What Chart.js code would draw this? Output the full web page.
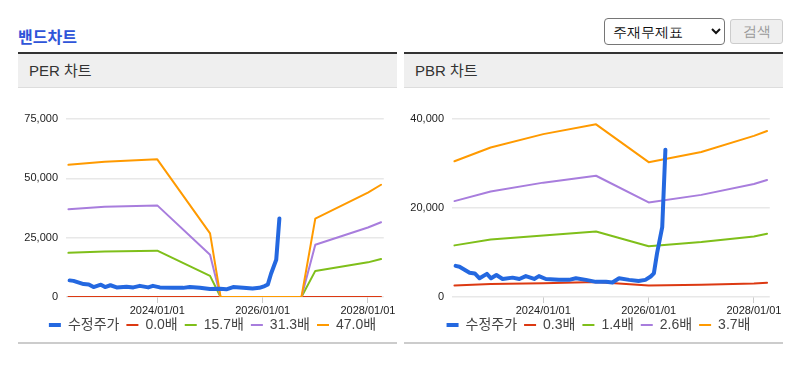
<!DOCTYPE html>
<html lang="ko">
<head>
<meta charset="utf-8">
<title>밴드차트</title>
<script src="https://cdn.jsdelivr.net/npm/chart.js@4.4.1/dist/chart.umd.min.js"></script>
<style>
  body { margin: 0; background: #fff; font-family: "Noto Sans CJK KR", "Noto Sans", sans-serif; }
  #title { position: absolute; left: 18px; top: 24px; font-size: 16px; font-weight: bold; color: #2f55d9; }
  #sel { position: absolute; left: 604px; top: 18px; width: 121px; height: 27px; font-size: 14px;
         border: 1px solid #767676; border-radius: 4px; background: #fff; color: #111; padding: 0 4px; }
  #btn { position: absolute; left: 730px; top: 19px; width: 53px; height: 25px; font-size: 14px;
         border: 1px solid #ccc; border-radius: 3px; background: #efefef; color: #999; padding: 0; }
  .panel { position: absolute; top: 52px; width: 379px; border-top: 2px solid #333; border-bottom: 2px solid #ccc; }
  .head { height: 33px; background: #efefef; border-bottom: 1px solid #ddd; font-size: 15px; color: #333;
          line-height: 33px; padding-left: 11px; font-family: "Liberation Sans", "Noto Sans CJK KR", sans-serif; }
  .box { position: relative; height: 254px; }
</style>
</head>
<body>
<div id="title">밴드차트</div>
<select id="sel"><option>주재무제표</option></select>
<button id="btn">검색</button>

<div class="panel" style="left:18px"><div class="head">PER 차트</div><div class="box"><canvas id="perChart"></canvas></div></div>
<div class="panel" style="left:404px"><div class="head">PBR 차트</div><div class="box"><canvas id="pbrChart"></canvas></div></div>

<script>
// x-axis range and labelled dates
const axisStart = '2022-04-08';
const axisEnd = '2028-04-20';
const tickDates = ['2024-01-01', '2026-01-01', '2028-01-01'];

// adjusted share price (수정주가), shared by both charts
const priceDates = ['2022-05-03','2022-05-30','2022-08-08','2022-09-13','2022-10-16','2022-12-06','2023-01-04','2023-02-10',
  '2023-03-25','2023-06-02','2023-07-19','2023-09-02','2023-10-30','2023-12-02','2024-01-19','2024-04-19','2024-06-28',
  '2024-08-14','2024-10-23','2024-12-31','2025-03-11','2025-04-24','2025-06-10','2025-08-19','2025-10-23','2025-12-09',
  '2026-01-15','2026-02-06','2026-02-28','2026-04-05','2026-04-27'];
const priceValues = [7000, 6800, 5450, 5300, 4200, 5200, 4200, 4950,
  4050, 4350, 4050, 4700, 4050, 4700, 4050, 3850, 3850,
  4200, 3850, 3400, 3450, 3250, 4200, 3850, 3600, 3850,
  4600, 5300, 9800, 15700, 33100];

// PER bands
const perDates = ['2022-04-25','2023-01-01','2024-01-01','2025-01-01','2025-03-15','2026-09-27','2027-01-01','2028-01-01','2028-04-01'];
const perLabels = ['0.0배', '15.7배', '31.3배', '47.0배'];
const per0 = [0, 0, 0, 0, 0, 0, 0, 0, 0];
const per1 = [18600, 19200, 19500, 8900, 0, 0, 11000, 14600, 16000];
const per2 = [37000, 38000, 38600, 17800, 0, 0, 22000, 29300, 31500];
const per3 = [55700, 57000, 58000, 26800, 0, 0, 33000, 44000, 47300];
const perTicks = [0, 25000, 50000, 75000];

// PBR bands
const pbrDates = ['2022-04-25','2023-01-01','2024-01-01','2025-01-01','2026-01-01','2027-01-01','2028-01-01','2028-04-01'];
const pbrLabels = ['0.3배', '1.4배', '2.6배', '3.7배'];
const pbr0 = [2600, 2900, 3100, 3350, 2600, 2750, 3050, 3200];
const pbr1 = [11600, 12900, 13800, 14700, 11400, 12350, 13600, 14200];
const pbr2 = [21550, 23700, 25700, 27250, 21250, 22950, 25400, 26300];
const pbr3 = [30500, 33600, 36600, 38800, 30300, 32600, 36200, 37300];
const pbrTicks = [0, 20000, 40000];

const bandColors = ['#dc3912', '#7fbf1a', '#a87ddd', '#ff9a00'];
const priceColor = '#2468e0';
const FONT = '"Liberation Sans", Arial, "Noto Sans CJK KR", sans-serif';

const t = s => Date.parse(s + 'T00:00:00Z');
const pts = (dates, vals) => dates.map((d, i) => ({ x: t(d), y: vals[i] }));

function fmtDate(v) {
    const d = new Date(v);
    const p = n => String(n).padStart(2, '0');
    return `${d.getUTCFullYear()}/${p(d.getUTCMonth() + 1)}/${p(d.getUTCDate())}`;
}

function renderBandChart(id, bandDates, labels, bands, yTicks) {
    const ctx = document.getElementById(id).getContext('2d');
    const datasets = [{
        label: '수정주가',
        data: pts(priceDates, priceValues),
        borderColor: priceColor,
        backgroundColor: priceColor,
        borderWidth: 4,
        order: 0
    }];
    bands.forEach((vals, i) => {
        datasets.push({
            label: labels[i],
            data: pts(bandDates, vals),
            borderColor: bandColors[i],
            backgroundColor: bandColors[i],
            borderWidth: 2,
            order: 4 - i + 1
        });
    });

    return new Chart(ctx, {
        type: 'line',
        data: { datasets },
        options: {
            responsive: true,
            maintainAspectRatio: false,
            animation: false,
            elements: { point: { radius: 0 }, line: { tension: 0, borderJoinStyle: 'round', borderCapStyle: 'round' } },
            // left padding nudges the legend right, like the original
            layout: { padding: { left: 21, right: 11, top: 31, bottom: 0 } },
            scales: {
                x: {
                    type: 'linear',
                    min: t(axisStart),
                    max: t(axisEnd),
                    afterBuildTicks: scale => { scale.ticks = tickDates.map(d => ({ value: t(d) })); },
                    // short axis box so the legend sits close; let the date labels draw past it
                    afterFit: scale => { scale.height = 14; scale._computeLabelArea = () => undefined; },
                    ticks: { callback: v => fmtDate(v), color: '#222', font: { family: FONT, size: 11 }, padding: 1, maxRotation: 0, autoSkip: false },
                    grid: { drawOnChartArea: false, drawTicks: true, tickLength: 6, color: '#ccc' },
                    border: { display: false }
                },
                y: {
                    min: 0,
                    max: yTicks[yTicks.length - 1],
                    afterBuildTicks: scale => { scale.ticks = yTicks.map(v => ({ value: v })); },
                    afterFit: scale => { scale.width = 27; scale._computeLabelArea = () => undefined; },
                    ticks: { callback: v => v.toLocaleString('en-US'), color: '#222', font: { family: FONT, size: 11 }, padding: 8 },
                    grid: { color: '#e8e8e8', lineWidth: 1.5, drawTicks: false },
                    border: { display: false }
                }
            },
            plugins: {
                legend: {
                    position: 'bottom',
                    labels: {
                        usePointStyle: true,
                        pointStyle: 'line',
                        pointStyleWidth: 12,
                        boxHeight: 8,
                        padding: 7,
                        color: '#444',
                        font: { family: FONT, size: 14 },
                        sort: (a, b) => a.datasetIndex - b.datasetIndex
                    }
                },
                tooltip: { enabled: false }
            }
        }
    });
}

renderBandChart('perChart', perDates, perLabels, [per0, per1, per2, per3], perTicks);
renderBandChart('pbrChart', pbrDates, pbrLabels, [pbr0, pbr1, pbr2, pbr3], pbrTicks);
</script>
</body>
</html>
